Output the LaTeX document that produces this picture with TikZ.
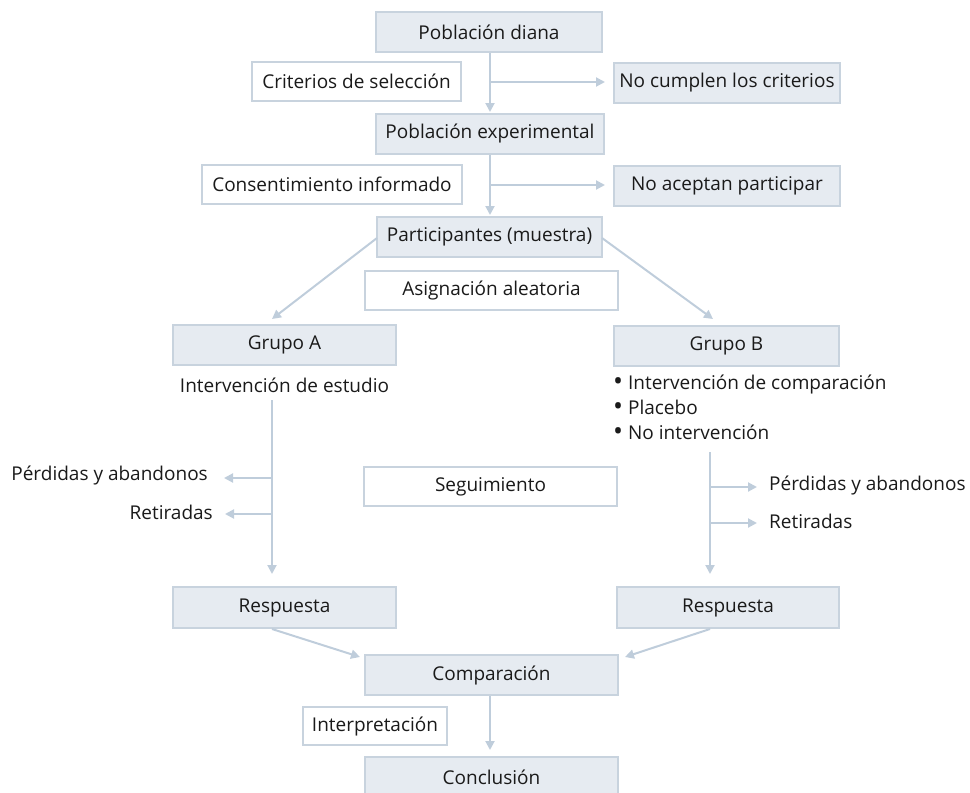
\documentclass[tikz,border=0pt]{standalone}
\usepackage{fontspec}
\setmainfont{Open Sans}
\usetikzlibrary{arrows.meta}
\definecolor{boxfill}{HTML}{E6EBF1}
\definecolor{boxline}{HTML}{C8D3DE}
\definecolor{flow}{HTML}{BFCDDB}
\definecolor{ink}{HTML}{1A1A1A}
\tikzset{
  base/.style={draw=boxline, line width=2pt, inner sep=0pt, text=ink,
               font=\fontsize{19}{25}\selectfont},
  stage/.style={base, fill=boxfill},
  note/.style={base, fill=white},
  plain/.style={inner sep=0pt, text=ink, font=\fontsize{19}{25}\selectfont},
  item/.style={plain, anchor=base west},
  flowline/.style={draw=flow, line width=2pt},
  flowarrow/.style={flowline, -{Triangle[length=9pt,width=9pt]}},
}
\newcommand{\boxat}[7]{% style, name, x, y, width, height, text
  \node[#1, minimum width=#5pt, minimum height=#6pt] (#2) at (#3,#4) {#7};}
\newcommand{\bigdot}{\raisebox{-0.08em}{\scalebox{1.4}{\textbullet}}}
\begin{document}
\begin{tikzpicture}[x=1pt,y=-1pt]
\useasboundingbox (0,0) rectangle (970,793);

% main column
\boxat{stage}{diana}{489}{32}{226}{40}{Población diana}
\boxat{note}{crit}{356.5}{81.5}{209}{39}{Criterios de selección}
\boxat{stage}{nocumplen}{727}{83}{226}{40}{No cumplen los criterios}
\boxat{stage}{exper}{490}{134}{228}{40}{Población experimental}
\boxat{note}{consent}{332}{184.5}{260}{39}{Consentimiento informado}
\boxat{stage}{noacept}{727}{186}{226}{40}{No aceptan participar}
\boxat{stage}{partic}{489.5}{237}{225}{40}{Participantes (muestra)}
\boxat{note}{asign}{491.5}{290.5}{253}{39}{Asignación aleatoria}

% the two groups
\boxat{stage}{grupoA}{284.5}{344.5}{223}{40}{Grupo A}
\boxat{stage}{grupoB}{726.5}{346}{225}{40}{Grupo B}
\node[plain] (intA) at (284.5,385) {Intervención de estudio};
\node[item] (itemB1) at (613,389) {\bigdot\ Intervención de comparación};
\node[item] (itemB2) at (613,414) {\bigdot\ Placebo};
\node[item] (itemB3) at (613,439) {\bigdot\ No intervención};

\boxat{note}{segui}{490.5}{486.5}{253}{39}{Seguimiento}

% follow-up losses
\coordinate (topA) at (272,400);
\coordinate (topB) at (710,452);
\coordinate (brA1) at (272,478);
\coordinate (brA2) at (272,514);
\coordinate (brB1) at (710,487);
\coordinate (brB2) at (710,523);
\node[plain, anchor=east] (perdA) at (208,475) {Pérdidas y abandonos};
\node[plain, anchor=east] (retA) at (213,512) {Retiradas};
\node[plain, anchor=west] (perdB) at (769,485) {Pérdidas y abandonos};
\node[plain, anchor=west] (retB) at (769,521) {Retiradas};

% responses and conclusion
\boxat{stage}{respA}{284.5}{607.5}{223}{41}{Respuesta}
\boxat{stage}{respB}{728}{607.5}{222}{41}{Respuesta}
\boxat{stage}{comp}{491.5}{675}{253}{40}{Comparación}
\boxat{note}{interp}{375}{726}{144}{38}{Interpretación}
\boxat{stage}{concl}{491.5}{777}{253}{40}{Conclusión}

% connectors
\coordinate (d1) at (diana.south -| 490,0);
\coordinate (j1) at (490,82);
\draw[flowarrow, shorten >=1pt] (d1) -- (exper.north -| d1);
\draw[flowarrow, shorten >=8pt] (j1) -- (j1 -| nocumplen.west);

\coordinate (e1) at (exper.south -| 490,0);
\coordinate (j2) at (490,185);
\draw[flowarrow, shorten >=1pt] (e1) -- (partic.north -| e1);
\draw[flowarrow, shorten >=8pt] (j2) -- (j2 -| noacept.west);

\coordinate (pl) at (377,238);
\coordinate (pr) at (602,238);
\coordinate (gA) at (272,319);
\coordinate (gB) at (713,319);
\draw[flowarrow] (pl) -- (gA);
\draw[flowarrow] (pr) -- (gB);

\draw[flowarrow, shorten >=12pt] (topA) -- (respA.north -| topA);
\draw[flowarrow, shorten >=12pt] (topB) -- (respB.north -| topB);
\draw[flowarrow, shorten >=16pt] (brA1) -- (brA1 -| perdA.east);
\draw[flowarrow, shorten >=12pt] (brA2) -- (brA2 -| retA.east);
\draw[flowarrow, shorten >=12pt] (brB1) -- (brB1 -| perdB.west);
\draw[flowarrow, shorten >=12pt] (brB2) -- (brB2 -| retB.west);

\coordinate (rA) at (respA.south -| 272,0);
\coordinate (rB) at (respB.south -| 710,0);
\draw[flowarrow] (rA) -- (360,657);
\draw[flowarrow] (rB) -- (625,657);
\draw[flowarrow, shorten >=6pt] (comp.south -| 490,0) -- (concl.north -| 490,0);
\end{tikzpicture}
\end{document}
